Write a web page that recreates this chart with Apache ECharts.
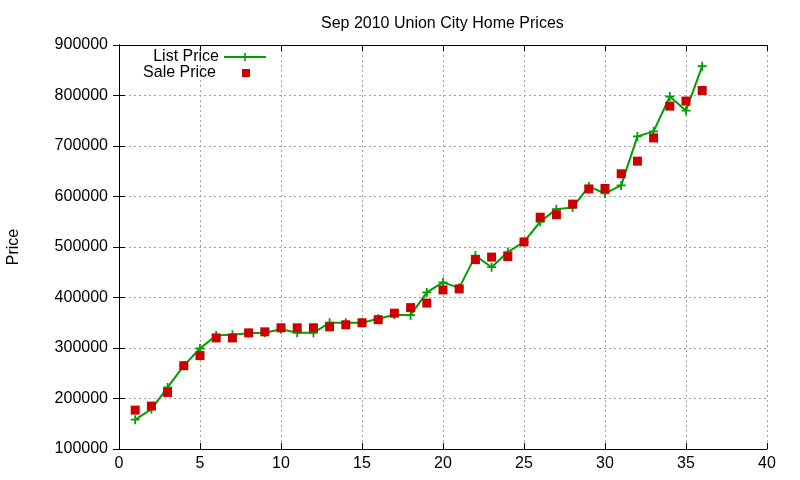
<!DOCTYPE html>
<html>
<head>
<meta charset="utf-8">
<title>Sep 2010 Union City Home Prices</title>
<script src="https://cdn.jsdelivr.net/npm/echarts@6/dist/echarts.min.js"></script>
<style>
  html, body { margin: 0; padding: 0; background: #fff; }
  #chart { width: 800px; height: 480px; }
</style>
</head>
<body>
<div id="chart"></div>
<script>
// house index 1..36
var houses = [1, 2, 3, 4, 5, 6, 7, 8, 9, 10, 11, 12, 13, 14, 15, 16, 17, 18,
              19, 20, 21, 22, 23, 24, 25, 26, 27, 28, 29, 30, 31, 32, 33, 34, 35, 36];
var listPrice = [158000, 179000, 222000, 265000, 299000, 325000, 326000, 329000, 330000, 337000,
                 330000, 330000, 350000, 350000, 350000, 358000, 366000, 365000, 410000, 430000,
                 419000, 483000, 460000, 490000, 510000, 550000, 575000, 578000, 620000, 606000,
                 622000, 719000, 729000, 798000, 770000, 858000];
var salePrice = [177000, 185000, 212000, 265000, 285000, 320000, 320000, 330000, 332000, 340000,
                 340000, 340000, 342000, 346000, 350000, 356000, 369000, 380000, 389000, 415000,
                 417000, 475000, 480000, 481000, 510000, 559000, 564000, 585000, 615000, 616000,
                 645000, 670000, 716000, 779000, 789000, 810000];
var xTicks = [0, 5, 10, 15, 20, 25, 30, 35, 40];
var yTicks = [100000, 200000, 300000, 400000, 500000, 600000, 700000, 800000, 900000];

var green = "#00a000",
    red = "#cc0000",
    font = "Liberation Sans, Arial, sans-serif",
    plus = "path://M4,0h2v4h4v2h-4v4h-2v-4h-4v-2h4z";

function pairs(vals) {
  return houses.map(function(h, i) { return [h, vals[i]]; });
}

var chart = echarts.init(document.getElementById("chart"));

var tickStyle = { inside: true, length: 6, lineStyle: { color: "#000" } };
var gridLine = { show: true, lineStyle: { color: "#a0a0a0", type: [2, 3], width: 1 } };

var option = {
  animation: false,
  backgroundColor: "#fff",
  title: {
    text: "Sep 2010 Union City Home Prices",
    left: 316,
    top: 11,
    textStyle: { fontFamily: font, fontSize: 16, fontWeight: "normal", color: "#000" }
  },
  legend: [
    {
      data: ["List Price"],
      right: 533,
      top: 49,
      itemWidth: 42,
      itemHeight: 10,
      align: "right",
      padding: 0,
      textStyle: { fontFamily: font, fontSize: 16, color: "#000" }
    },
    {
      data: ["Sale Price"],
      right: 550,
      top: 65,
      itemWidth: 8,
      itemHeight: 8,
      icon: "rect",
      align: "right",
      padding: 0,
      textStyle: { fontFamily: font, fontSize: 16, color: "#000", padding: [0, 21, 0, 0] }
    }
  ],
  grid: { left: 119, right: 33, top: 45, bottom: 31, containLabel: false, outerBoundsMode: "none" },
  xAxis: [
    {
      type: "value", min: xTicks[0], max: xTicks[xTicks.length - 1], interval: 5,
      axisLine: { show: true, lineStyle: { color: "#000" } },
      axisTick: tickStyle,
      axisLabel: { fontFamily: font, fontSize: 16, color: "#000", margin: 7 },
      splitLine: gridLine
    },
    {
      type: "value", position: "top", min: xTicks[0], max: xTicks[xTicks.length - 1], interval: 5,
      axisLine: { show: true, lineStyle: { color: "#000" } },
      axisTick: tickStyle,
      axisLabel: { show: false },
      splitLine: { show: false }
    }
  ],
  yAxis: [
    {
      type: "value", min: yTicks[0], max: yTicks[yTicks.length - 1], interval: 100000,
      name: "Price", nameLocation: "middle", nameGap: 97,
      nameTextStyle: { fontFamily: font, fontSize: 16, color: "#000" },
      axisLine: { show: true, lineStyle: { color: "#000" } },
      axisTick: tickStyle,
      axisLabel: {
        fontFamily: font, fontSize: 16, color: "#000", margin: 11,
        formatter: function(v) { return String(v); }
      },
      splitLine: gridLine
    },
    {
      type: "value", position: "right", min: yTicks[0], max: yTicks[yTicks.length - 1], interval: 100000,
      axisLine: { show: true, lineStyle: { color: "#000" } },
      axisTick: tickStyle,
      axisLabel: { show: false },
      splitLine: { show: false }
    }
  ],
  series: [
    {
      name: "List Price",
      type: "line",
      data: pairs(listPrice),
      symbol: plus,
      symbolSize: 9,
      showAllSymbol: true,
      lineStyle: { color: green, width: 2 },
      itemStyle: { color: green }
    },
    {
      name: "Sale Price",
      type: "scatter",
      data: pairs(salePrice),
      symbol: "rect",
      symbolSize: 9,
      itemStyle: { color: red, opacity: 1 },
      z: 3
    }
  ]
};

chart.setOption(option);
</script>
</body>
</html>
